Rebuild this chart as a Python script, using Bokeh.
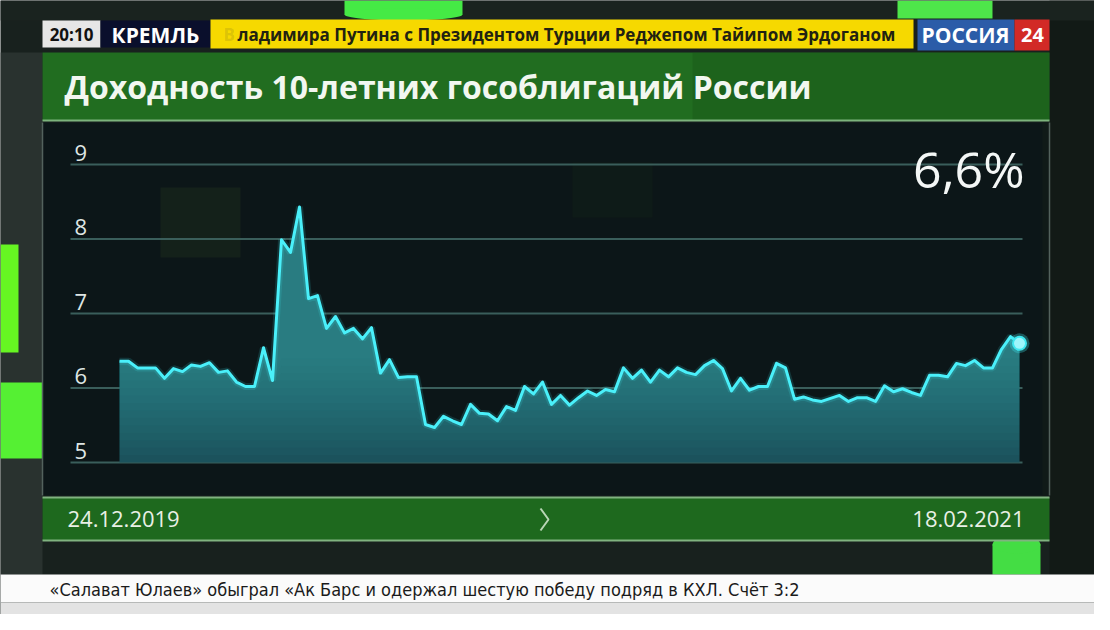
import numpy as np
from bokeh.plotting import figure
from bokeh.models import Range1d
from bokeh.core.properties import value
from bokeh.embed import file_html
from bokeh.resources import INLINE

# ---------------- data ----------------
yields = [6.36, 6.36, 6.27, 6.27, 6.27, 6.13, 6.26, 6.22, 6.31, 6.29,
          6.34, 6.21, 6.23, 6.08, 6.02, 6.02, 6.54, 6.10, 7.99, 7.82,
          8.43, 7.20, 7.24, 6.80, 6.96, 6.74, 6.80, 6.66, 6.81, 6.20,
          6.38, 6.14, 6.15, 6.15, 5.51, 5.47, 5.62, 5.56, 5.51, 5.78,
          5.66, 5.65, 5.56, 5.75, 5.70, 6.02, 5.92, 6.08, 5.78, 5.90,
          5.77, 5.87, 5.96, 5.90, 5.98, 5.95, 6.27, 6.13, 6.24, 6.08,
          6.24, 6.15, 6.27, 6.21, 6.18, 6.30, 6.37, 6.26, 5.96, 6.13,
          5.97, 6.02, 6.02, 6.33, 6.27, 5.85, 5.88, 5.84, 5.82, 5.86,
          5.90, 5.82, 5.87, 5.87, 5.82, 6.03, 5.95, 5.99, 5.94, 5.90,
          6.17, 6.17, 6.15, 6.33, 6.30, 6.37, 6.27, 6.27, 6.52, 6.69, 6.60]
y_ticks = [5, 6, 7, 8, 9]
y_tick_labels = ["5", "6", "7", "8", "9"]
date_start = "24.12.2019"
date_end = "18.02.2021"
last_value_label = "6,6%"
title = "Доходность 10-летних гособлигаций России"
header_time = "20:10"
header_rubric = "КРЕМЛЬ"
header_news_first = "В"
header_news = "ладимира Путина  с Президентом Турции Реджепом Тайипом Эрдоганом"
channel = "РОССИЯ"
channel_num = "24"
ticker = "«Салават Юлаев» обыграл «Ак Барс и одержал шестую победу подряд в КХЛ. Счёт 3:2"

# ---------------- layout (screen pixels of the page) ----------------
W, H = 1094, 614
PX_L, PX_R, PX_T, PX_B = 8, 8 + W, 8, 8 + H
X_FIRST_PX, X_LAST_PX = 127, 1027
V_LO_PX, V_HI_PX = 470, 172          # pixel rows of the 5 and 9 gridlines

n = len(yields)
xs = np.arange(n)
vals = np.array(yields)
step = (X_LAST_PX - X_FIRST_PX) / (n - 1)
unit = (V_LO_PX - V_HI_PX) / (y_ticks[-1] - y_ticks[0])
x_range = Range1d((PX_L - X_FIRST_PX) / step, (PX_R - X_FIRST_PX) / step)
y_range = Range1d(y_ticks[0] - (PX_B - V_LO_PX) / unit, y_ticks[0] + (V_LO_PX - PX_T) / unit)

p = figure(width=W, height=H, x_range=x_range, y_range=y_range,
           output_backend="svg", toolbar_location=None, min_border=0)
p.extra_x_ranges = {"px": Range1d(PX_L, PX_R)}
p.extra_y_ranges = {"px": Range1d(PX_B, PX_T)}
p.axis.visible = False
p.grid.visible = False
p.outline_line_color = None
p.background_fill_color = "#18211e"
p.border_fill_color = "#18211e"

PX = dict(x_range_name="px", y_range_name="px")

def box(l, r, t, b, color, alpha=1.0):
    p.quad(left=[l], right=[r], top=[t], bottom=[b], fill_color=color,
           fill_alpha=alpha, line_color=None, **PX)

def label(x, y, txt, size, color, font="Open Sans", style="normal", align="left", alpha=1.0):
    p.text(x=[x], y=[y], text=[txt], text_font=value(font), text_font_size=f"{size}px",
           text_font_style=style, text_color=color, text_align=align,
           text_baseline="middle", text_alpha=alpha, **PX)

# background areas
box(8, 50, 60, 582, "#29322f")
box(1057, 1102, 8, 582, "#121a16")
box(8, 1102, 8, 28, "#1a231f")
# green decorative blobs
box(352, 470, 8, 22, "#45ea45")
p.ellipse(x=[411], y=[22], width=118, height=12, fill_color="#45ea45", line_color=None, **PX)
box(905, 1000, 8, 26, "#4ee64a")
box(8, 26, 252, 360, "#66f522")
box(8, 50, 390, 466, "#55f033")
box(1000, 1048, 552, 582, "#44dd44")
p.ellipse(x=[1024], y=[552], width=48, height=18, fill_color="#44dd44", line_color=None, **PX)

# header bar
box(50, 108, 28, 55, "#e6e6e6")
box(108, 218, 28, 55, "#0a0f2c")
box(218, 921, 27, 56, "#f6d900")
box(925, 1022, 27, 58, "#2b5ca8")
box(1022, 1057, 27, 58, "#d22a26")
label(79, 42, header_time, 17, "#111111", style="bold", align="center")
label(163, 42, header_rubric, 21, "#ffffff", style="bold", align="center")
label(231, 42, header_news_first, 17, "#333333", style="bold", alpha=0.15)
label(245, 42, header_news, 17, "#222211", style="bold")
label(973, 42, channel, 21, "#ffffff", style="bold", align="center")
label(1040, 42, channel_num, 20, "#ffffff", style="bold", align="center")

# title panel
box(50, 1057, 60, 128, "#216d20")
box(700, 1057, 60, 128, "#174f18", 0.35)
p.segment(x0=[50], x1=[1057], y0=[128], y1=[128], line_color="#7cb37c", line_width=2, **PX)
label(72, 94, title, 32, "#f2f7f0", style="bold")

# chart panel
box(50, 1057, 130, 503, "#0c1618")
box(168, 248, 195, 265, "#16241c", 0.8)
box(580, 660, 170, 225, "#112019", 0.6)
box(1050, 1057, 130, 503, "#101a18")
p.segment(x0=[50, 1057], x1=[50, 1057], y0=[130, 130], y1=[503, 503],
          line_color="#53625d", line_width=1.5, **PX)

# gridlines and tick labels (data y, screen x)
p.segment(x0=78, x1=1030, y0=y_ticks, y1=y_ticks, line_color="#3f6663",
          line_width=2, line_alpha=0.9, x_range_name="px")
p.text(x=82, y=y_ticks, text=y_tick_labels, text_font=value("Open Sans"),
       text_font_size="22px", text_color="#dfe6e4", text_baseline="bottom",
       y_offset=-4, x_range_name="px")

# area with vertical shading
base = float(y_ticks[0])
p.varea(x=xs, y1=base, y2=vals, fill_color="#1a4e58", fill_alpha=1.0)
for lev in np.arange(5.0, 6.45, 0.1):
    p.varea(x=xs, y1=np.minimum(vals, lev), y2=vals, fill_color="#3fb6c2", fill_alpha=0.045)
# line with glow
p.line(xs, vals, line_color="#3ee8f0", line_width=7, line_alpha=0.15)
p.line(xs, vals, line_color="#4af0fa", line_width=3, line_join="round")
p.scatter([xs[-1]], [vals[-1]], size=20, fill_color="#3ee8f0", fill_alpha=0.3, line_color=None)
p.scatter([xs[-1]], [vals[-1]], size=13, fill_color="#9ff6fb", line_color="#3ee8f0", line_width=2)

label(1032, 176, last_value_label, 50, "#f4f7f6", align="right")

# date bar
box(50, 1057, 505, 548, "#1e691e")
p.segment(x0=[50, 50], x1=[1057, 1057], y0=[505, 548], y1=[505, 548],
          line_color="#80b380", line_width=2, **PX)
label(75, 526, date_start, 22, "#e9f0e6")
label(1032, 526, date_end, 22, "#e9f0e6", align="right")
p.line(x=[548, 556, 548], y=[516, 527, 538], line_color="#b9d6b6", line_width=2, **PX)

# bottom ticker
box(8, 1102, 582, 610, "#fbfbfb")
box(8, 1102, 610, 622, "#e3e3e3")
label(57, 597, ticker, 18, "#1a1a1a",
      font="'Liberation Sans Narrow', 'DejaVu Sans Condensed', sans-serif")

open("out.html", "w").write(file_html(p, INLINE))
